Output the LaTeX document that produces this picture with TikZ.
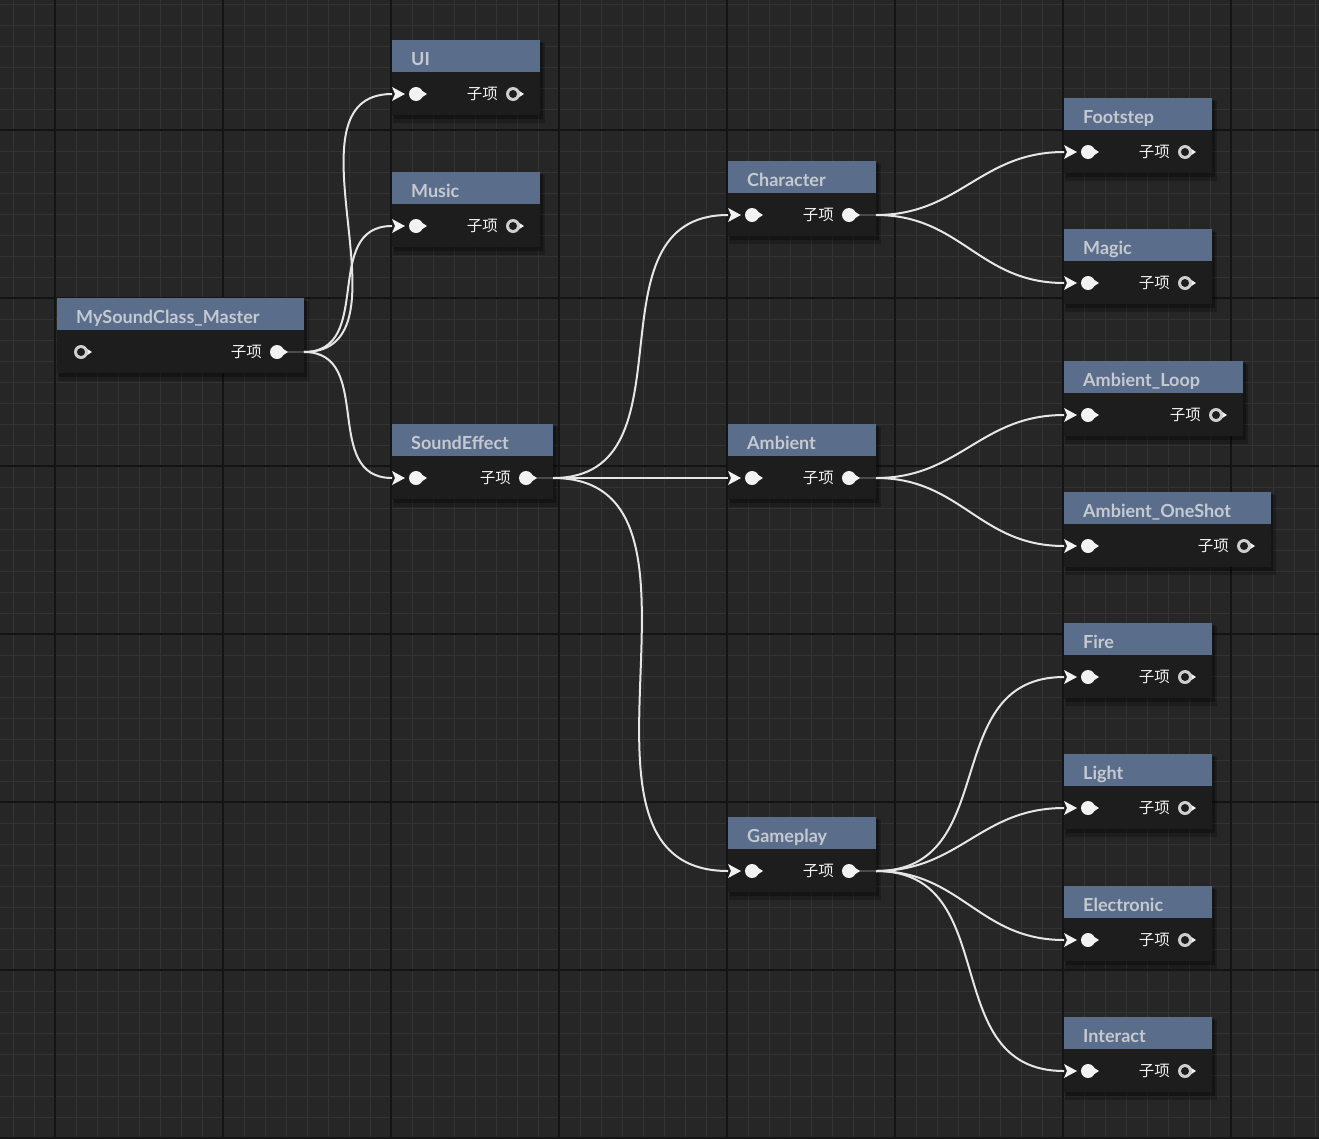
\documentclass[tikz,border=0pt]{standalone}
\usepackage{fontspec}
\setmainfont{Lato}
\newfontfamily\cjkfont{Noto Sans CJK SC}
\usetikzlibrary{calc}
\definecolor{bgc}{HTML}{262626}
\definecolor{minorc}{HTML}{333333}
\definecolor{majorc}{HTML}{141414}
\definecolor{headc}{HTML}{5A6D8B}
\definecolor{bodyc}{HTML}{1D1D1D}
\definecolor{titlec}{HTML}{C5C9D0}
\definecolor{pinc}{HTML}{F2F2F2}
\definecolor{wirec}{HTML}{E6E6E6}
\definecolor{dimwirec}{HTML}{4A4A4A}
\tikzset{
  uebody/.style={fill=bodyc, inner sep=0pt, minimum height=75pt},
  uehead/.style={fill=headc, inner sep=0pt, minimum height=32pt},
  uetitle/.style={inner sep=0pt, text=titlec, font=\bfseries\fontsize{18}{19}\selectfont},
  uepinlabel/.style={inner sep=0pt, text=pinc, font=\cjkfont\fontsize{15.5}{16}\selectfont},
  uewire/.style={draw=wirec, line width=2pt},
  dimwire/.style={draw=dimwirec, line width=2pt},
}
\newcommand\uenode[7]{%
  \pgfmathsetmacro\ueW{#3-#2}%
  \fill[black, opacity=.22] ({#2+1},{#4+3}) rectangle ({#3+5},{#4+83});
  \fill[black, opacity=.3] ({#2+2},{#4+2}) rectangle ({#3+3},{#4+79});
  \node[uebody, minimum width=\ueW pt, anchor=north west] (#1) at (#2,#4) {};
  \node[uehead, minimum width=\ueW pt, anchor=north west] (#1-head) at (#2,#4) {};
  \node[uetitle, anchor=base west] (#1-title) at ({#2+19},{#4+25.5}) {#5};
  \coordinate (#1-in) at (#2,{#4+54});
  \coordinate (#1-out) at (#3,{#4+54});
  \node[uepinlabel, anchor=east] (#1-label) at ({#3-42},{#4+54}) {子项};
  \begin{scope}[shift={(#1-in)}]
    \ifnum#6=1
      \fill[pinc] (0,-7) -- (13,0) -- (0,7) -- (3,0) -- cycle;
      \fill[pinc] (24,0) circle[radius=7pt];
      \fill[pinc] (28,-4.5) -- (35,0) -- (28,4.5) -- cycle;
    \else
      \fill[pinc] (28,-4.5) -- (35,0) -- (28,4.5) -- cycle;
      \fill[pinc!85!black] (24,0) circle[radius=7pt];
      \fill[bodyc] (24,0) circle[radius=4pt];
    \fi
  \end{scope}
  \begin{scope}[shift={(#1-out)}]
    \ifnum#7=1
      \draw[dimwire] (-20,0) -- (0,0);
      \fill[pinc] (-27,0) circle[radius=7pt];
      \fill[pinc] (-23,-4.5) -- (-16,0) -- (-23,4.5) -- cycle;
    \else
      \fill[pinc] (-23,-4.5) -- (-16,0) -- (-23,4.5) -- cycle;
      \fill[pinc!85!black] (-27,0) circle[radius=7pt];
      \fill[bodyc] (-27,0) circle[radius=4pt];
    \fi
  \end{scope}
}
\newcommand\uewire[2]{%
  \draw[uewire] let \p1=(#1-out), \p2=(#2-in),
    \n1={(abs(\x2-\x1)+abs(\y2-\y1))/3} in
    (\p1) .. controls ($(\p1)+(\n1,0)$) and ($(\p2)-(\n1,0)$) .. (\p2);
}
\begin{document}
\begin{tikzpicture}[x=1pt,y=-1pt]
\useasboundingbox (0,0) rectangle (1319,1138);
\fill[bgc] (0,0) rectangle (1319,1138);
% minor grid
\foreach \gx in {0,...,63} {\draw[minorc, line width=1pt] ({13+21*\gx},0) -- ({13+21*\gx},1138);}
\foreach \gy in {0,...,54} {\draw[minorc, line width=1pt] (0,{4+21*\gy}) -- (1319,{4+21*\gy});}
% major grid
\foreach \gx in {55,223,391,559,727,895,1063,1231} {\draw[majorc, line width=1.3pt] (\gx,0) -- (\gx,1138);}
\foreach \gy in {130,298,466,634,802,970,1138} {\draw[majorc, line width=1.3pt] (0,\gy) -- (1319,\gy);}
% nodes
\uenode{master}{57}{304}{298}{MySoundClass\_Master}{0}{1}
\uenode{ui}{392}{540}{40}{UI}{1}{0}
\uenode{music}{392}{540}{172}{Music}{1}{0}
\uenode{sfx}{392}{553}{424}{SoundEffect}{1}{1}
\uenode{character}{728}{876}{161}{Character}{1}{1}
\uenode{ambient}{728}{876}{424}{Ambient}{1}{1}
\uenode{gameplay}{728}{876}{817}{Gameplay}{1}{1}
\uenode{footstep}{1064}{1212}{98}{Footstep}{1}{0}
\uenode{magic}{1064}{1212}{229}{Magic}{1}{0}
\uenode{ambloop}{1064}{1243}{361}{Ambient\_Loop}{1}{0}
\uenode{ambone}{1064}{1271}{492}{Ambient\_OneShot}{1}{0}
\uenode{fire}{1064}{1212}{623}{Fire}{1}{0}
\uenode{light}{1064}{1212}{754}{Light}{1}{0}
\uenode{electronic}{1064}{1212}{886}{Electronic}{1}{0}
\uenode{interact}{1064}{1212}{1017}{Interact}{1}{0}
% wires
\uewire{master}{ui}
\uewire{master}{music}
\uewire{master}{sfx}
\uewire{sfx}{character}
\uewire{sfx}{ambient}
\uewire{sfx}{gameplay}
\uewire{character}{footstep}
\uewire{character}{magic}
\uewire{ambient}{ambloop}
\uewire{ambient}{ambone}
\uewire{gameplay}{fire}
\uewire{gameplay}{light}
\uewire{gameplay}{electronic}
\uewire{gameplay}{interact}
\end{tikzpicture}
\end{document}
